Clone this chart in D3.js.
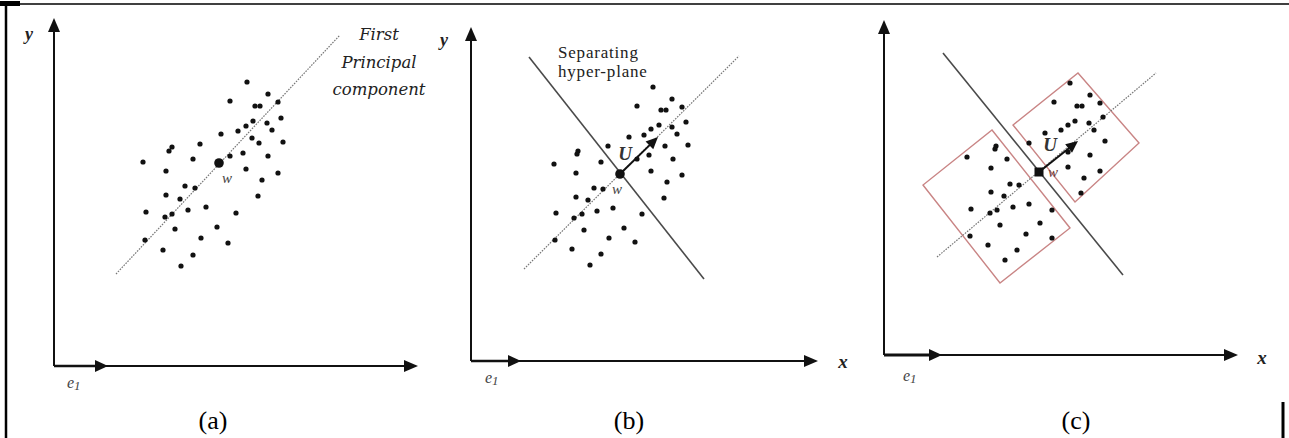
<!DOCTYPE html>
<html>
<head>
<meta charset="utf-8">
<script src="https://cdn.jsdelivr.net/npm/d3@7"></script>
<style>
  body { margin: 0; background: #fff; }
</style>
</head>
<body>
<div id="fig"></div>
<script>
// every value is in a panel's own units: [distance right of the y axis, distance above the x axis]
const axisLength = { a: [364, 348], b: [347, 334], c: [354, 335] };
const e1Length = { a: 54, b: 50, c: 58 };

const pointsA = [
  [193, 284], [176, 265], [214, 272], [201, 260], [206, 260], [224, 264], [227, 248],
  [199, 245], [192, 240], [213, 243], [184, 235], [218, 236], [167, 232], [198, 228],
  [205, 223], [229, 224], [146, 222], [118, 219], [115, 215], [189, 213], [176, 210],
  [214, 210], [139, 207], [89, 204], [112, 195], [192, 197], [224, 193], [208, 186],
  [131, 180], [141, 178], [112, 171], [204, 170], [126, 167], [152, 159], [134, 156],
  [92, 154], [118, 152], [111, 149], [182, 153], [163, 139], [121, 137], [147, 128],
  [91, 126], [174, 123], [109, 116], [139, 111], [127, 100]
];
const pointsB = [
  [182, 274], [201, 262], [166, 255], [190, 251], [195, 251], [211, 254], [215, 239],
  [188, 236], [180, 232], [201, 234], [173, 226], [206, 227], [158, 224], [194, 215],
  [217, 216], [137, 215], [107, 210], [106, 207], [178, 206], [166, 202], [202, 202],
  [130, 199], [83, 197], [105, 188], [180, 190], [211, 186], [196, 179], [123, 173],
  [132, 172], [105, 164], [193, 163], [117, 161], [142, 153], [126, 150], [85, 148],
  [111, 147], [103, 143], [171, 147], [153, 133], [113, 131], [138, 123], [84, 121],
  [164, 119], [101, 112], [130, 107], [119, 96]
];
const pointsC = [
  [186, 272], [206, 260], [170, 253], [193, 249], [198, 249], [216, 252], [219, 238],
  [191, 234], [184, 230], [205, 232], [177, 225], [210, 225], [161, 222], [221, 214],
  [145, 212], [206, 200], [184, 203], [184, 188], [200, 177], [216, 184], [197, 162],
  [112, 209], [111, 206], [83, 198], [123, 196], [107, 187], [126, 171], [135, 170],
  [107, 163], [120, 159], [145, 151], [129, 148], [87, 146], [113, 145], [106, 142],
  [168, 145], [156, 132], [116, 130], [142, 121], [86, 119], [168, 117], [104, 110],
  [133, 105], [121, 95]
];

const centerW = { a: [165, 203], b: [149, 187], c: [155, 183] };
const vectorU = { b: [187, 224], c: [194, 214] };
const principalLine = { a: [[62, 92], [286, 331]], b: [[53, 92], [268, 305]], c: [[53, 98], [272, 282]] };
const separatingLine = { b: [[58, 304], [233, 82]], c: [[59, 302], [239, 80]] };
const boxesC = [
  [[108, 225], [186, 127], [116, 72], [39, 170]],
  [[194, 282], [255, 212], [191, 153], [129, 230]]
];
const captions = { a: "(a)", b: "(b)", c: "(c)" };

(function () {
  const width = 1289;
  const height = 438;
  const serif = "'Liberation Serif', serif";

  const layout = {
    a: { ox: 54, oy: 366, capX: 213, yLabel: [29, 40], xLabel: null, e1: [67, 388] },
    b: { ox: 471, oy: 361, capX: 629, yLabel: [444, 46], xLabel: [843, 368], e1: [485, 383] },
    c: { ox: 884, oy: 355, capX: 1076, yLabel: null, xLabel: [1262, 364], e1: [903, 381] }
  };
  const points = { a: pointsA, b: pointsB, c: pointsC };

  const svg = d3.select("#fig")
    .append("svg")
    .attr("width", width)
    .attr("height", height)
    .style("display", "block");

  // page frame pieces
  svg.append("line").attr("x1", 0).attr("x2", width).attr("y1", 4).attr("y2", 4)
    .attr("stroke", "#000").attr("stroke-width", 1.5);
  svg.append("rect").attr("x", 0).attr("y", 1).attr("width", 20).attr("height", 5).attr("fill", "#000");
  svg.append("line").attr("x1", 6).attr("x2", 6).attr("y1", 3).attr("y2", height)
    .attr("stroke", "#000").attr("stroke-width", 2.5);
  svg.append("line").attr("x1", 1283).attr("x2", 1283).attr("y1", 402).attr("y2", height)
    .attr("stroke", "#000").attr("stroke-width", 3);

  function arrowHead(g, x1, y1, x2, y2, len, half, color) {
    const a = Math.atan2(y2 - y1, x2 - x1);
    const bx = x2 - len * Math.cos(a), by = y2 - len * Math.sin(a);
    const px = -Math.sin(a) * half, py = Math.cos(a) * half;
    g.append("path")
      .attr("d", `M${x2},${y2}L${bx + px},${by + py}L${bx - px},${by - py}Z`)
      .attr("fill", color);
  }

  Object.keys(layout).forEach(key => {
    const L = layout[key];
    const [lx, ly] = axisLength[key];
    const x = d3.scaleLinear().domain([0, lx]).range([L.ox, L.ox + lx]);
    const y = d3.scaleLinear().domain([0, ly]).range([L.oy, L.oy - ly]);
    const g = svg.append("g");
    const line = d3.line().x(d => x(d[0])).y(d => y(d[1]));

    // rectangles around the two halves
    if (key === "c") {
      g.selectAll("path.box")
        .data(boxesC)
        .enter()
        .append("path")
        .attr("class", "box")
        .attr("d", d => line(d) + "Z")
        .attr("fill", "none")
        .attr("stroke", "#c98585")
        .attr("stroke-width", 1.4);
    }

    // first principal component (dotted)
    g.append("path")
      .attr("d", line(principalLine[key]))
      .attr("fill", "none")
      .attr("stroke", "#777")
      .attr("stroke-width", 1.2)
      .attr("stroke-dasharray", "1.6,1.2");

    if (separatingLine[key]) {
      g.append("path")
        .attr("d", line(separatingLine[key]))
        .attr("fill", "none")
        .attr("stroke", "#4a4a4a")
        .attr("stroke-width", 1.6);
    }

    // axes
    const x0 = x(0), y0 = y(0), xEnd = x(lx), yEnd = y(ly);
    g.append("line").attr("x1", x0).attr("y1", y0).attr("x2", x0).attr("y2", yEnd + 8)
      .attr("stroke", "#111").attr("stroke-width", 2);
    arrowHead(g, x0, y0, x0, yEnd, 14, 6, "#111");
    g.append("line").attr("x1", x0).attr("y1", y0).attr("x2", xEnd - 8).attr("y2", y0)
      .attr("stroke", "#111").attr("stroke-width", 2);
    arrowHead(g, x0, y0, xEnd, y0, 14, 6, "#111");
    g.append("line").attr("x1", x0).attr("y1", y0).attr("x2", x(e1Length[key]) - 6).attr("y2", y0)
      .attr("stroke", "#111").attr("stroke-width", key === "c" ? 3 : 2.4);
    arrowHead(g, x0, y0, x(e1Length[key]), y0, 13, 6, "#111");

    // samples
    g.selectAll("circle.pt")
      .data(points[key])
      .enter()
      .append("circle")
      .attr("class", "pt")
      .attr("cx", d => x(d[0]))
      .attr("cy", d => y(d[1]))
      .attr("r", 2.6)
      .attr("fill", "#111");

    const [wx, wy] = [x(centerW[key][0]), y(centerW[key][1])];
    if (vectorU[key]) {
      const [ux, uy] = [x(vectorU[key][0]), y(vectorU[key][1])];
      g.append("line").attr("x1", wx).attr("y1", wy).attr("x2", ux - (ux - wx) * 0.2).attr("y2", uy - (uy - wy) * 0.2)
        .attr("stroke", "#111").attr("stroke-width", 2);
      arrowHead(g, wx, wy, ux, uy, 12, 5.5, "#111");
      g.append("text")
        .attr("x", key === "b" ? wx + 5 : wx + 11)
        .attr("y", key === "b" ? wy - 14 : wy - 21)
        .attr("text-anchor", "middle")
        .text("U")
        .style("font-family", serif)
        .style("font-style", "italic")
        .style("font-weight", "bold")
        .style("font-size", "19px")
        .style("fill", "#333");
    }
    if (key === "c") {
      g.append("rect").attr("x", wx - 4.5).attr("y", wy - 4.5).attr("width", 9).attr("height", 9).attr("fill", "#111");
    } else {
      g.append("circle").attr("cx", wx).attr("cy", wy).attr("r", 4.8).attr("fill", "#111");
    }
    g.append("text")
      .attr("x", key === "c" ? wx + 14 : wx + (key === "a" ? 8 : -3))
      .attr("y", key === "c" ? wy + 5 : wy + 20)
      .attr("text-anchor", "middle")
      .text("w")
      .style("font-family", serif)
      .style("font-style", "italic")
      .style("font-size", "15px")
      .style("fill", key === "c" ? "#6b3a3a" : "#444");

    // axis labels
    if (L.yLabel) {
      g.append("text").attr("x", L.yLabel[0]).attr("y", L.yLabel[1]).attr("text-anchor", "middle")
        .text("y")
        .style("font-family", serif).style("font-style", "italic").style("font-weight", "bold")
        .style("font-size", "18px").style("fill", "#222");
    }
    if (L.xLabel) {
      g.append("text").attr("x", L.xLabel[0]).attr("y", L.xLabel[1]).attr("text-anchor", "middle")
        .text("x")
        .style("font-family", serif).style("font-style", "italic").style("font-weight", "bold")
        .style("font-size", "19px").style("fill", "#222");
    }
    const e1 = g.append("text").attr("x", L.e1[0]).attr("y", L.e1[1])
      .style("font-family", serif).style("font-style", "italic")
      .style("font-size", "16px").style("fill", "#444");
    e1.append("tspan").text("e");
    e1.append("tspan").attr("dy", 2).style("font-size", "13px").text("1");

    // caption
    svg.append("text")
      .attr("x", L.capX)
      .attr("y", 429)
      .attr("text-anchor", "middle")
      .text(captions[key])
      .style("font-family", serif)
      .style("font-size", "26px")
      .style("fill", "#000");
  });

  // annotations
  svg.append("text")
    .attr("x", 379)
    .attr("text-anchor", "middle")
    .style("font-family", "'DejaVu Serif', serif")
    .style("font-style", "italic")
    .style("font-size", "16.5px")
    .style("fill", "#222")
    .selectAll("tspan")
    .data(["First", "Principal", "component"])
    .enter()
    .append("tspan")
    .attr("x", 379)
    .attr("y", (d, i) => 40 + i * 27.5)
    .text(d => d);

  ["Separating", "hyper-plane"].forEach((t, i) => {
    svg.append("text")
      .attr("x", 558)
      .attr("y", 58 + i * 19)
      .text(t)
      .style("font-family", serif)
      .style("font-size", "17px")
      .style("letter-spacing", "0.8px")
      .style("fill", "#222");
  });
})();
</script>
</body>
</html>
